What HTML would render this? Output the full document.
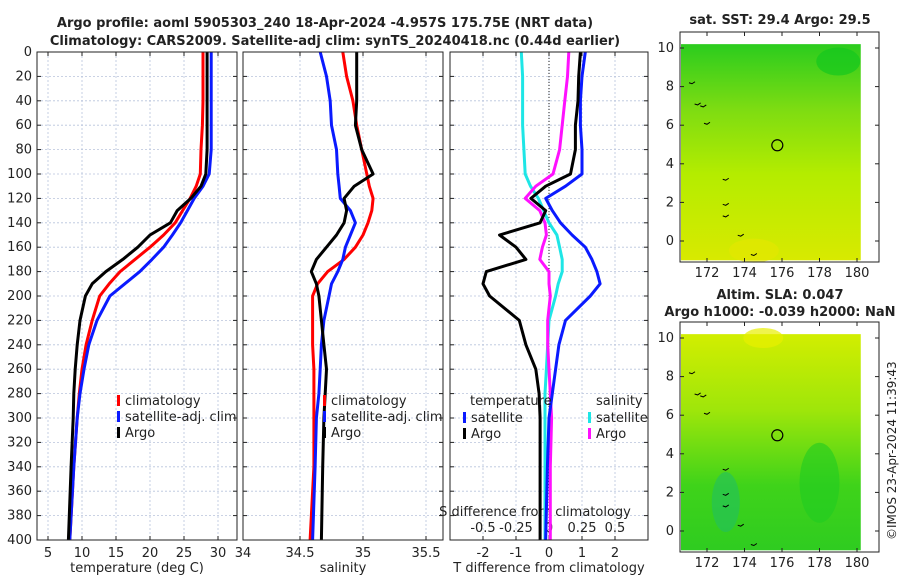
<!DOCTYPE html>
<html><head><meta charset="utf-8"><style>
body{margin:0;background:#fff;}
svg{font-family:"DejaVu Sans","Liberation Sans",sans-serif;}
</style></head><body>
<svg id="c" width="900" height="580" xmlns="http://www.w3.org/2000/svg">
<defs>
<linearGradient id="sst" x1="0" y1="0" x2="0" y2="1">
<stop offset="0" stop-color="#2bcc1e"/><stop offset="0.3" stop-color="#7ddc12"/><stop offset="0.6" stop-color="#b4ec00"/><stop offset="1" stop-color="#d8ea00"/></linearGradient>
<linearGradient id="sla" x1="0" y1="0" x2="0" y2="1">
<stop offset="0" stop-color="#d2ee00"/><stop offset="0.35" stop-color="#9fe60a"/><stop offset="0.7" stop-color="#3fd31a"/><stop offset="1" stop-color="#2fcc20"/></linearGradient>
</defs>
<g id="root"></g>
</svg>
<script>
const depths=[0,20,40,60,80,100,110,120,130,140,150,160,170,180,190,200,220,240,260,280,300,340,400];
const tClim=[27.8,27.8,27.8,27.7,27.5,27.4,26.8,25.9,24.8,23.7,22,20,17.8,15.6,14,12.6,11.5,10.6,10,9.6,9.3,8.8,8.2];
const tSat=[29.0,29.0,29.0,29.0,29.0,28.7,27.8,26.5,25.5,24.5,23.3,22,20.3,18.5,16.3,14.1,12.2,11,10.3,9.7,9.3,8.8,8.2];
const tArgo=[28.4,28.4,28.4,28.4,28.4,28.2,27.5,26,24,23,20,18.2,16,13.5,11.5,10.5,9.7,9.3,9,8.8,8.7,8.4,8.0];
const sClim=[34.84,34.87,34.92,34.95,34.99,35.03,35.05,35.08,35.07,35.04,35.0,34.94,34.85,34.72,34.64,34.6,34.6,34.6,34.61,34.61,34.61,34.61,34.58];
const sSat=[34.66,34.71,34.74,34.75,34.79,34.8,34.81,34.82,34.9,34.94,34.9,34.86,34.84,34.8,34.75,34.73,34.69,34.67,34.66,34.65,34.63,34.62,34.6];
const sArgo=[34.95,34.95,34.95,34.94,34.99,35.08,34.93,34.85,34.87,34.85,34.79,34.71,34.63,34.59,34.63,34.65,34.67,34.69,34.71,34.7,34.69,34.68,34.67];
const dTSat=[1.1,1.0,0.95,0.95,1.0,1.0,0.5,-0.1,0.1,0.35,0.7,1.1,1.3,1.45,1.55,1.25,0.5,0.3,0.2,0.1,0.0,-0.05,-0.1];
const dTArgo=[0.95,0.9,0.88,0.8,0.8,0.65,-0.1,-0.55,-0.1,-0.27,-1.5,-1.0,-0.7,-1.9,-2.0,-1.8,-0.9,-0.7,-0.4,-0.3,-0.27,-0.27,-0.27];
const dSSat=[-0.21,-0.2,-0.2,-0.2,-0.19,-0.18,-0.14,-0.08,-0.04,0.0,0.06,0.08,0.1,0.1,0.07,0.05,0.0,-0.01,-0.02,-0.03,-0.03,-0.03,-0.03];
const dSArgo=[0.15,0.14,0.12,0.1,0.08,0.03,-0.1,-0.18,-0.07,-0.03,-0.02,-0.05,-0.07,0.0,0.0,0.01,-0.01,-0.01,0.0,0.01,0.02,0.01,0.01];
const depthTicks=[0,20,40,60,80,100,120,140,160,180,200,220,240,260,280,300,320,340,360,380,400];
const tTicks=[5,10,15,20,25,30];
const sTicks=[34,34.5,35,35.5];
const dTTicks=[-2,-1,0,1,2];
const dSTicks=[-0.5,-0.25,0,0.25,0.5];
const lonTicks=[172,174,176,178,180];
const latTicks=[0,2,4,6,8,10];
const floatPos=[175.75,4.96];

const NS="http://www.w3.org/2000/svg";
const root=document.getElementById('root');
function el(t,a,p){const e=document.createElementNS(NS,t);for(const k in a)e.setAttribute(k,a[k]);(p||root).appendChild(e);return e;}
function tx(x,y,s,a,p){const e=el('text',Object.assign({x:x,y:y,'font-size':13,fill:'#222'},a||{}),p);e.textContent=s;return e;}
const Y=d=>52+d*1.22;
const panels=[{x0:37,x1:237},{x0:243,x1:443},{x0:450,x1:648}];
const XT=v=>48+(v-5)*6.8;
const XS=v=>300+(v-34.5)*126;
const XDT=v=>549+v*33;
const XDS=v=>549+v*132;

panels.forEach((p,i)=>{
 const g=el('g',{});
 
 
 depthTicks.forEach(d=>{el('line',{x1:p.x0,x2:p.x1,y1:Y(d),y2:Y(d),stroke:'#b8c4dc','stroke-dasharray':'2,2','stroke-width':0.8},g);
  el('line',{x1:p.x0,x2:p.x0+4,y1:Y(d),y2:Y(d),stroke:'#222'},g);el('line',{x1:p.x1,x2:p.x1-4,y1:Y(d),y2:Y(d),stroke:'#222'},g);});
 const xs=i==0?tTicks.map(XT):i==1?sTicks.map(XS):dTTicks.map(XDT);
 xs.forEach(x=>{if(x>=p.x0&&x<=p.x1){el('line',{x1:x,x2:x,y1:52,y2:540,stroke:'#b8c4dc','stroke-dasharray':'2,2','stroke-width':0.8},g);
  el('line',{x1:x,x2:x,y1:540,y2:536,stroke:'#222'},g);el('line',{x1:x,x2:x,y1:52,y2:56,stroke:'#222'},g);}});
});
depthTicks.forEach(d=>{const t=tx(32,Y(d)+4,String(d),{'text-anchor':'end'});});
tTicks.forEach(v=>tx(XT(v),557,String(v),{'text-anchor':'middle'}));
sTicks.forEach(v=>tx(XS(v)+(v==34?6:0),557,String(v),{'text-anchor':'middle'}));
dTTicks.forEach(v=>tx(XDT(v),557,String(v),{'text-anchor':'middle'}));
dSTicks.forEach(v=>tx(XDS(v),532,String(v),{'text-anchor':'middle'}));
tx(535,516,'S difference from climatology',{'text-anchor':'middle'});
tx(137,572,'temperature (deg C)',{'text-anchor':'middle'});
tx(343,572,'salinity',{'text-anchor':'middle'});
tx(549,572,'T difference from climatology',{'text-anchor':'middle'});
el('line',{x1:XDT(0),x2:XDT(0),y1:52,y2:540,stroke:'#222','stroke-dasharray':'1,2'});

function line(xs,sc,col,name){const pts=depths.map((d,i)=>sc(xs[i]).toFixed(1)+','+Y(d).toFixed(1)).join(' ');
 const e=el('polyline',{points:pts,fill:'none',stroke:col,'stroke-width':3,'stroke-linejoin':'round'});
 }
line(tClim,XT,'#ff0000','temp-climatology-line');
line(tSat,XT,'#0a1aff','temp-satellite-line');
line(tArgo,XT,'#000','temp-argo-line');
line(sClim,XS,'#ff0000','sal-climatology-line');
line(sSat,XS,'#0a1aff','sal-satellite-line');
line(sArgo,XS,'#000','sal-argo-line');
line(dSSat,XDS,'#1ee6e6','sal-diff-satellite-line');
line(dSArgo,XDS,'#ff10ff','sal-diff-argo-line');
line(dTSat,XDT,'#0a1aff','temp-diff-satellite-line');
line(dTArgo,XDT,'#000','temp-diff-argo-line');

panels.forEach(p=>el('rect',{x:p.x0,y:52,width:p.x1-p.x0,height:488,fill:'none',stroke:'#222','stroke-width':1}));

function leg(x,y,col,label){el('rect',{x:x,y:y-9,width:3,height:11,fill:col});const t=tx(x+8,y+1,label);}
leg(117,404,'#ff0000','climatology');leg(117,420,'#0a1aff','satellite-adj. clim');leg(117,436,'#000','Argo');
leg(323,404,'#ff0000','climatology');leg(323,420,'#0a1aff','satellite-adj. clim');leg(323,436,'#000','Argo');
tx(470,405,'temperature');leg(463,421,'#0a1aff','satellite');leg(463,437,'#000','Argo');
tx(596,405,'salinity');leg(588,421,'#1ee6e6','satellite');leg(588,437,'#ff10ff','Argo');

tx(325,27,'Argo profile: aoml 5905303_240 18-Apr-2024 -4.957S 175.75E (NRT data)',{'text-anchor':'middle','font-weight':'bold'});
tx(335,45,'Climatology: CARS2009. Satellite-adj clim: synTS_20240418.nc (0.44d earlier)',{'text-anchor':'middle','font-weight':'bold'});

function map(top,grad,name,t1,t2){
 const g=el('g',{});
 const X=v=>707+(v-172)*18.75, Yl=v=>top+16+(10-v)*19.3;
 el('rect',{x:681,y:Yl(10.2),width:X(180.2)-681,height:Yl(-1)-Yl(10.2),fill:'url(#'+grad+')'},g);
 if(grad=='sst'){el('ellipse',{cx:X(179),cy:Yl(9.3),rx:22,ry:14,fill:'#14c81e',opacity:0.7},g);el('ellipse',{cx:X(174.5),cy:Yl(-0.5),rx:25,ry:12,fill:'#e6e600',opacity:0.6},g);}
 else{el('ellipse',{cx:X(175),cy:Yl(10),rx:20,ry:10,fill:'#e8f000',opacity:0.7},g);el('ellipse',{cx:X(173),cy:Yl(1.5),rx:14,ry:30,fill:'#22c060',opacity:0.6},g);el('ellipse',{cx:X(178),cy:Yl(2.5),rx:20,ry:40,fill:'#20cc22',opacity:0.6},g);}
 el('rect',{x:680,y:top,width:199,height:230,fill:'none',stroke:'#222'},g);
 lonTicks.forEach(v=>{el('line',{x1:X(v),x2:X(v),y1:top+230,y2:top+226,stroke:'#222'},g);el('line',{x1:X(v),x2:X(v),y1:top,y2:top+4,stroke:'#222'},g);tx(X(v),top+245,String(v),{'text-anchor':'middle'},g);});
 latTicks.forEach(v=>{el('line',{x1:680,x2:684,y1:Yl(v),y2:Yl(v),stroke:'#222'},g);el('line',{x1:879,x2:875,y1:Yl(v),y2:Yl(v),stroke:'#222'},g);tx(674,Yl(v)+4,String(v),{'text-anchor':'end'},g);});
 [[171.2,8.2],[171.5,7.1],[172,6.1],[173,3.2],[173,1.9],[173,1.3],[173.8,0.3],[174.5,-0.7],[171.8,7.0]].forEach(q=>el('path',{d:'M'+(X(q[0])-3)+' '+Yl(q[1])+' l3 1 l3 -2',stroke:'#000',fill:'none','stroke-width':1},g));
 const c=el('circle',{cx:X(floatPos[0]),cy:Yl(floatPos[1]),r:5.5,fill:'none',stroke:'#000','stroke-width':1.2},g);
 
 if(t2){tx(780,top-23,t1,{'text-anchor':'middle','font-weight':'bold'},g);tx(780,top-6,t2,{'text-anchor':'middle','font-weight':'bold'},g);}
 else tx(780,top-8,t1,{'text-anchor':'middle','font-weight':'bold'},g);
}
map(32,'sst','sst-map','sat. SST: 29.4 Argo: 29.5');
map(322,'sla','sla-map','Altim. SLA: 0.047','Argo h1000: -0.039 h2000: NaN');
const cr=tx(0,0,'©IMOS 23-Apr-2024 11:39:43',{transform:'translate(896,540) rotate(-90)','font-size':12});

</script>
</body></html>
